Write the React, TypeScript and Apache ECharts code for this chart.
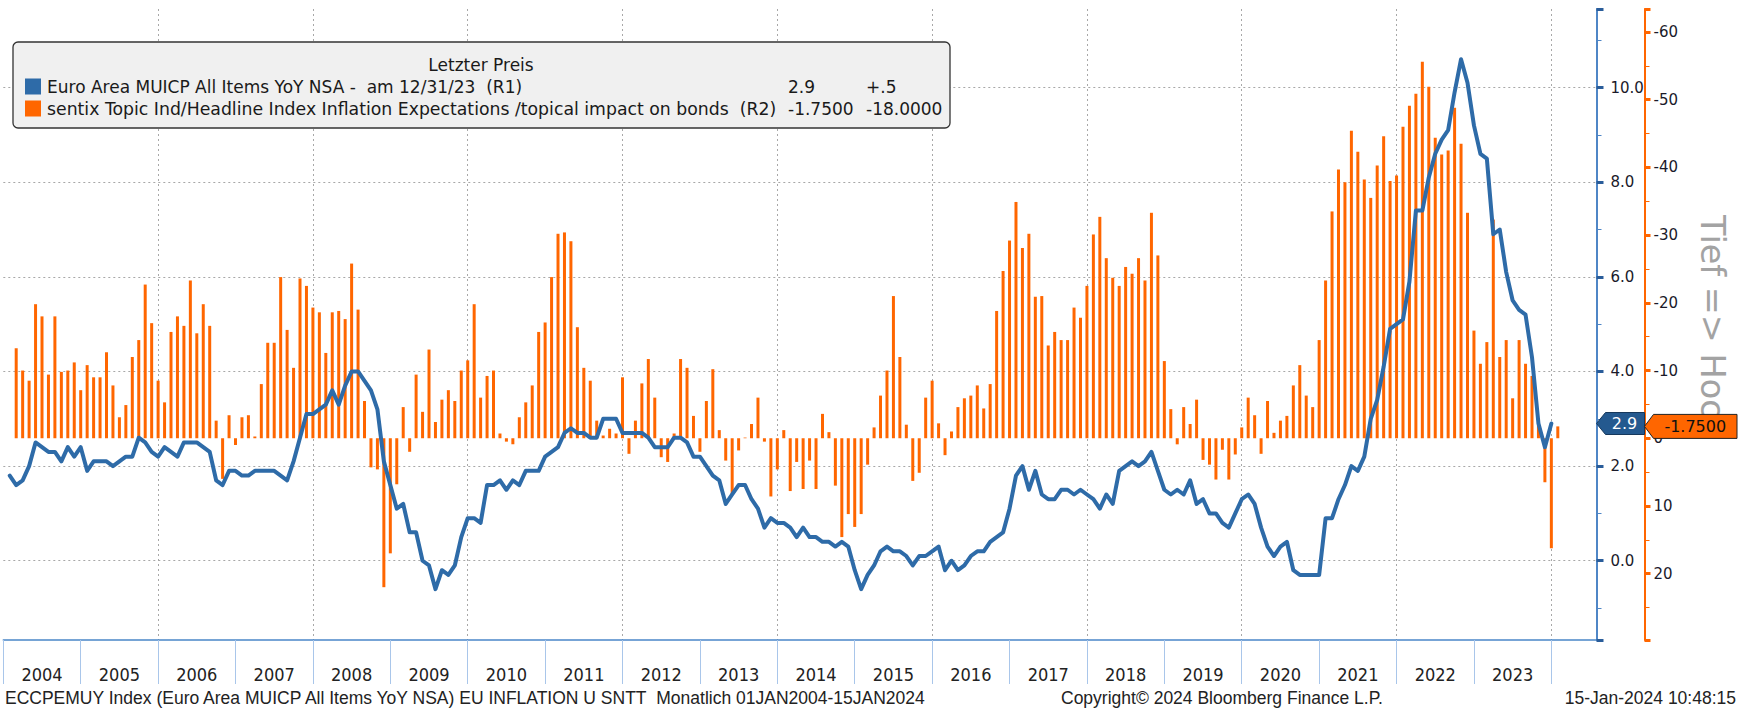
import React, { useEffect, useRef } from "react";
import * as echarts from "echarts";

// ---------- data ----------
const START_YEAR = 2004;
const YEARS = [
  "2004", "2005", "2006", "2007", "2008", "2009", "2010", "2011", "2012", "2013",
  "2014", "2015", "2016", "2017", "2018", "2019", "2020", "2021", "2022", "2023",
];

// Euro Area MUICP All Items YoY NSA, monthly Jan 2004 .. Dec 2023 (R1)
const HICP_YOY: number[] = [
  1.8, 1.6, 1.7, 2.0, 2.5, 2.4, 2.3, 2.3, 2.1, 2.4, 2.2, 2.4,
  1.9, 2.1, 2.1, 2.1, 2.0, 2.1, 2.2, 2.2, 2.6, 2.5, 2.3, 2.2,
  2.4, 2.3, 2.2, 2.5, 2.5, 2.5, 2.4, 2.3, 1.7, 1.6, 1.9, 1.9,
  1.8, 1.8, 1.9, 1.9, 1.9, 1.9, 1.8, 1.7, 2.1, 2.6, 3.1, 3.1,
  3.2, 3.3, 3.6, 3.3, 3.7, 4.0, 4.0, 3.8, 3.6, 3.2, 2.1, 1.6,
  1.1, 1.2, 0.6, 0.6, 0.0, -0.1, -0.6, -0.2, -0.3, -0.1, 0.5, 0.9,
  0.9, 0.8, 1.6, 1.6, 1.7, 1.5, 1.7, 1.6, 1.9, 1.9, 1.9, 2.2,
  2.3, 2.4, 2.7, 2.8, 2.7, 2.7, 2.6, 2.6, 3.0, 3.0, 3.0, 2.7,
  2.7, 2.7, 2.7, 2.6, 2.4, 2.4, 2.4, 2.6, 2.6, 2.5, 2.2, 2.2,
  2.0, 1.8, 1.7, 1.2, 1.4, 1.6, 1.6, 1.3, 1.1, 0.7, 0.9, 0.8,
  0.8, 0.7, 0.5, 0.7, 0.5, 0.5, 0.4, 0.4, 0.3, 0.4, 0.3, -0.2,
  -0.6, -0.3, -0.1, 0.2, 0.3, 0.2, 0.2, 0.1, -0.1, 0.1, 0.1, 0.2,
  0.3, -0.2, 0.0, -0.2, -0.1, 0.1, 0.2, 0.2, 0.4, 0.5, 0.6, 1.1,
  1.8, 2.0, 1.5, 1.9, 1.4, 1.3, 1.3, 1.5, 1.5, 1.4, 1.5, 1.4,
  1.3, 1.1, 1.4, 1.2, 1.9, 2.0, 2.1, 2.0, 2.1, 2.3, 1.9, 1.5,
  1.4, 1.5, 1.4, 1.7, 1.2, 1.3, 1.0, 1.0, 0.8, 0.7, 1.0, 1.3,
  1.4, 1.2, 0.7, 0.3, 0.1, 0.3, 0.4, -0.2, -0.3, -0.3, -0.3, -0.3,
  0.9, 0.9, 1.3, 1.6, 2.0, 1.9, 2.2, 3.0, 3.4, 4.1, 4.9, 5.0,
  5.1, 5.9, 7.4, 7.4, 8.1, 8.6, 8.9, 9.1, 9.9, 10.6, 10.1, 9.2,
  8.6, 8.5, 6.9, 7.0, 6.1, 5.5, 5.3, 5.2, 4.3, 2.9, 2.4, 2.9,
];

// sentix Inflation Expectations / topical impact on bonds, monthly Feb 2004 .. Jan 2024 (R2)
const SENTIX_INFL: number[] = [
  -13.3, -10.0, -8.5, -19.8, -18.0, -9.4, -18.0, -9.8, -10.0, -11.2, -7.1,
  -10.8, -9.0, -9.0, -12.7, -7.8, -3.1, -4.9, -12.0, -14.5, -22.7, -17.0, -8.5,
  -5.3, -15.7, -18.0, -16.6, -23.3, -15.5, -19.8, -16.6, -2.6, 6.0, -3.4, 1.0,
  -3.1, -3.4, -0.25, -8.0, -14.1, -14.1, -23.8, -16.0, -10.4, -23.6, -22.5, -19.3,
  -18.6, -12.6, -18.6, -18.8, -17.6, -25.8, -19.0, -5.5, 4.3, 4.6, 22.0, 17.0,
  6.8, -4.6, 2.0, -9.4, -3.9, -13.1, -2.4, -5.7, -7.1, -5.5, -10.0, -11.5,
  -19.8, -6.0, -9.2, -10.0, -0.7, 0.5, 0.9, -3.1, -5.3, -7.8, -15.7, -17.1,
  -23.8, -30.2, -30.4, -29.1, -16.4, -10.4, -8.5, -2.6, -0.4, -1.4, -0.7, -9.0,
  2.3, -2.6, -8.1, -11.7, -6.0, 2.8, 3.5, -0.7, -11.7, -10.4, -3.3, 2.0,
  -5.5, -10.2, -1.2, 3.3, 8.3, 1.8, -0.1, -2.1, -6.0, 0.5, 8.6, 4.6,
  -1.2, 7.8, 3.5, 7.5, 3.3, 7.5, -3.6, -0.9, 7.0, 14.6, 11.2, 13.1,
  11.2, 3.9, -1.6, -6.3, -10.0, -21.0, -12.0, -2.0, 6.3, 5.1, -6.0, -8.5,
  -2.2, 2.5, -1.0, -4.6, -5.9, -6.3, -7.8, -4.4, -8.0, -18.8, -24.7, -29.2,
  -34.9, -28.1, -30.2, -20.9, -21.0, -13.7, -15.7, -14.5, -14.5, -19.3, -17.8, -22.5,
  -30.1, -32.7, -26.6, -23.7, -22.5, -25.3, -24.3, -26.6, -23.3, -33.3, -27.0, -11.4,
  -4.3, 0.9, -4.6, -2.1, -5.7, 3.2, 3.9, 6.1, 1.7, 6.1, 2.4, -1.6,
  -6.0, -3.4, 2.3, -5.5, -0.8, -2.6, -3.3, -7.8, -10.8, -6.3, -4.6, -14.5,
  -23.3, -33.5, -39.7, -37.8, -45.4, -42.3, -38.2, -35.5, -40.3, -44.6, -38.0, -38.8,
  -46.0, -49.1, -50.9, -55.6, -51.9, -44.4, -41.9, -42.5, -48.8, -43.5, -33.3, -15.9,
  -11.0, -14.2, -32.3, -12.0, -14.5, -5.9, -14.5, -11.0, -9.2, -2.0, 6.5, 16.25,
  -1.75,
];

const LEGEND_TITLE = "Letzter Preis";
const LEGEND_ROWS = [
  "Euro Area MUICP All Items YoY NSA -\u00a0\u00a0am 12/31/23\u00a0\u00a0(R1)",
  "sentix Topic Ind/Headline Index Inflation Expectations /topical impact on bonds\u00a0\u00a0(R2)",
];
const LEGEND_LAST = ["2.9", "-1.7500"];
const LEGEND_CHANGE = ["+.5", "-18.0000"];
const SIDE_TEXT = "Tief => Hoch";
const FOOTER_LEFT =
  "ECCPEMUY Index (Euro Area MUICP All Items YoY NSA) EU INFLATION U SNTT\u00a0\u00a0Monatlich 01JAN2004-15JAN2024";
const FOOTER_MID = "Copyright\u00a9 2024 Bloomberg Finance L.P.";
const FOOTER_RIGHT = "15-Jan-2024 10:48:15";

// ---------- layout / style ----------
const W = 1738;
const H = 709;
const GRID = { left: 3.3, right: 141.5, top: 9, bottom: 69 };
const R1_RANGE = [-1.675, 11.66];
const R2_RANGE = [-63.4, 29.8];
const R2_OFFSET = 48;
const BLUE = "#2e6ba8";
const ORANGE = "#ff6600";
const FONT = "'DejaVu Sans', Verdana, sans-serif";
const NARROW = "'Liberation Sans Narrow', 'DejaVu Sans Condensed', 'Liberation Sans', Arial, sans-serif";
const FOOT_FONT = "'Liberation Sans', Arial, sans-serif";

// month-end categories: index 0 = start of 2004, index k = end of month k
const N_CAT = 248;
const CATS = Array.from({ length: N_CAT }, (_, k) =>
  new Date(Date.UTC(START_YEAR, k, 0)).toISOString().slice(0, 10)
);

function txt(x: number, y: number, text: string, o: any = {}) {
  return {
    type: "text",
    x,
    y,
    z: o.z ?? 10,
    rotation: o.rotation ?? 0,
    style: {
      text,
      fill: o.fill ?? "#1a1a1a",
      fontSize: o.fontSize ?? 17,
      fontFamily: o.fontFamily ?? FONT,
      align: o.align ?? "left",
      textAlign: o.align ?? "left",
      verticalAlign: "middle",
      textVerticalAlign: "middle",
    },
  };
}

export default function App() {
  const ref = useRef<HTMLDivElement>(null);

  useEffect(() => {
    if (!ref.current) return;
    const chart = echarts.init(ref.current, null, { renderer: "svg" });

    const lineData = [null, ...HICP_YOY];
    const barData = [null, null, ...SENTIX_INFL];

    chart.setOption({
      animation: false,
      backgroundColor: "#ffffff",
      textStyle: { fontFamily: FONT },
      grid: { ...GRID, containLabel: false, outerBoundsMode: "none" },
      xAxis: {
        type: "category",
        data: CATS,
        boundaryGap: false,
        axisLine: { show: true, onZero: false, lineStyle: { color: "#4a86c8", width: 1.5 } },
        axisTick: {
          show: true,
          interval: (i: number) => i % 12 === 0 && i <= YEARS.length * 12,
          length: 44,
          lineStyle: { color: "#a9c6ea", width: 1 },
        },
        axisLabel: {
          interval: (i: number) => i % 12 === 6 && Math.floor(i / 12) < YEARS.length,
          formatter: (_v: string, i: number) => YEARS[Math.floor(i / 12)] ?? "",
          margin: 25,
          fontFamily: NARROW,
          fontSize: 18,
          color: "#222",
        },
        splitLine: {
          show: true,
          interval: (i: number) => i > 0 && i % 24 === 0,
          lineStyle: { color: "#a8a8a8", type: [2, 3], width: 1 },
        },
      },
      yAxis: [
        {
          type: "value",
          position: "right",
          min: R1_RANGE[0],
          max: R1_RANGE[1],
          splitNumber: 7,
          axisLine: { show: true, onZero: false, lineStyle: { color: "#4f86c6", width: 2 } },
          axisTick: { show: true, length: 7, lineStyle: { color: "#2a5d9a", width: 3 } },
          minorTick: { show: true, splitNumber: 2, length: 5, lineStyle: { color: "#4f86c6", width: 1 } },
          axisLabel: {
            margin: 14,
            showMinLabel: false,
            showMaxLabel: false,
            formatter: (v: number) => v.toFixed(1),
            color: "#1a1a2a",
            fontSize: 15,
            fontFamily: FONT,
          },
          splitLine: {
            show: true,
            showMinLine: false,
            showMaxLine: false,
            lineStyle: { color: "#a8a8a8", type: [2, 3], width: 1 },
          },
        },
        {
          type: "value",
          position: "right",
          offset: R2_OFFSET,
          inverse: true,
          min: R2_RANGE[0],
          max: R2_RANGE[1],
          splitNumber: 9,
          axisLine: { show: true, onZero: false, lineStyle: { color: ORANGE, width: 2 } },
          axisTick: { show: true, length: 6, lineStyle: { color: ORANGE, width: 3 } },
          minorTick: { show: true, splitNumber: 2, length: 5, lineStyle: { color: ORANGE, width: 1 } },
          axisLabel: {
            margin: 9,
            showMinLabel: false,
            showMaxLabel: false,
            formatter: (v: number) => String(Math.round(v)),
            color: "#1a1a2a",
            fontSize: 15,
            fontFamily: FONT,
          },
          splitLine: { show: false },
        },
      ],
      series: [
        {
          type: "bar",
          name: "sentix",
          yAxisIndex: 1,
          data: barData,
          barWidth: 3,
          itemStyle: { color: ORANGE },
          z: 2,
        },
        {
          type: "line",
          name: "HICP",
          yAxisIndex: 0,
          data: lineData,
          symbol: "none",
          showSymbol: false,
          connectNulls: false,
          lineStyle: { color: BLUE, width: 4, join: "round", cap: "round" },
          z: 3,
        },
      ],
    });

    const lastHicp = HICP_YOY[HICP_YOY.length - 1];
    const lastSentix = SENTIX_INFL[SENTIX_INFL.length - 1];
    const yB = chart.convertToPixel({ yAxisIndex: 0 }, lastHicp) as number;
    const yO = chart.convertToPixel({ yAxisIndex: 1 }, lastSentix) as number;
    const axR1 = W - GRID.right;
    const axR2 = axR1 + R2_OFFSET;

    const lgX = 13, lgY = 42, lgW = 937, lgH = 86;
    const row1 = 86.5, row2 = 108.5;
    const footY = 698;
    const footSize = 17.5;

    chart.setOption({
      graphic: [
        // side caption
        txt(1712, 215, SIDE_TEXT, { rotation: -Math.PI / 2, fill: "#a3a3a3", fontSize: 33.5, z: 5 }),
        // legend box
        {
          type: "rect",
          z: 20,
          shape: { x: lgX, y: lgY, width: lgW, height: lgH, r: 5 },
          style: { fill: "#f0f0f0", stroke: "#333333", lineWidth: 1.3 },
        },
        txt(481, 65, LEGEND_TITLE, { align: "center", z: 21 }),
        { type: "rect", z: 21, shape: { x: 25, y: row1 - 8, width: 16, height: 16 }, style: { fill: BLUE } },
        { type: "rect", z: 21, shape: { x: 25, y: row2 - 8, width: 16, height: 16 }, style: { fill: ORANGE } },
        txt(47, row1, LEGEND_ROWS[0], { z: 21 }),
        txt(47, row2, LEGEND_ROWS[1], { z: 21, fontSize: 17.3 }),
        txt(788, row1, LEGEND_LAST[0], { z: 21 }),
        txt(788, row2, LEGEND_LAST[1], { z: 21 }),
        txt(866, row1, LEGEND_CHANGE[0], { z: 21 }),
        txt(866, row2, LEGEND_CHANGE[1], { z: 21 }),
        // last value tags
        {
          type: "polygon",
          z: 30,
          shape: {
            points: [
              [axR1, yB],
              [axR1 + 9, yB - 11],
              [axR2, yB - 11],
              [axR2, yB + 11],
              [axR1 + 9, yB + 11],
            ],
          },
          style: { fill: "#24598f", stroke: "#16385c", lineWidth: 1 },
        },
        txt((axR1 + axR2) / 2 + 4, yB, LEGEND_LAST[0], { align: "center", fill: "#ffffff", fontSize: 16, z: 31 }),
        {
          type: "polygon",
          z: 30,
          shape: {
            points: [
              [axR2, yO],
              [axR2 + 9, yO - 12],
              [W - 1, yO - 12],
              [W - 1, yO + 12],
              [axR2 + 9, yO + 12],
            ],
          },
          style: { fill: ORANGE, stroke: "#222222", lineWidth: 1 },
        },
        txt((axR2 + W) / 2 + 4, yO, LEGEND_LAST[1], { align: "center", fill: "#111111", fontSize: 16, z: 31 }),
        // footer
        txt(5, footY, FOOTER_LEFT, { fontFamily: FOOT_FONT, fontSize: footSize, fill: "#222" }),
        txt(1061, footY, FOOTER_MID, { fontFamily: FOOT_FONT, fontSize: footSize, fill: "#222" }),
        txt(1736, footY, FOOTER_RIGHT, { fontFamily: FOOT_FONT, fontSize: footSize, fill: "#222", align: "right" }),
      ],
    });

    return () => chart.dispose();
  }, []);

  return (
    <div
      ref={ref}
      style={{ position: "absolute", left: 0, top: 0, width: W, height: H, background: "#fff" }}
    />
  );
}
